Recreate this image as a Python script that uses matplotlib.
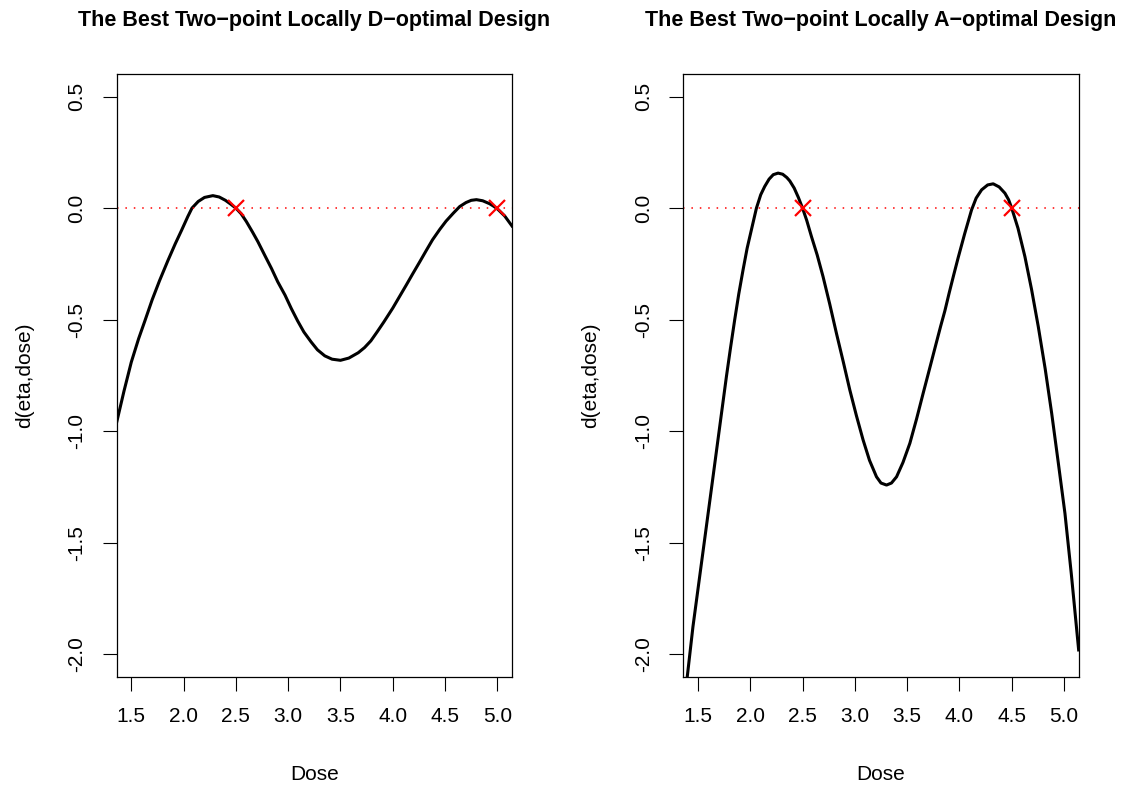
import numpy as np
import matplotlib
matplotlib.use("Agg")
import matplotlib.pyplot as plt

plt.rcParams['font.family'] = ['Liberation Sans', 'DejaVu Sans']

# sensitivity function
dose_d = [1.36, 1.43, 1.50, 1.57, 1.63, 1.70, 1.77, 1.85, 1.92, 1.98,
          2.04, 2.08, 2.14, 2.20, 2.28, 2.34, 2.40, 2.45, 2.50, 2.55,
          2.60, 2.66, 2.71, 2.78, 2.84, 2.90, 2.97, 3.03, 3.09, 3.15,
          3.22, 3.28, 3.35, 3.42, 3.50, 3.58, 3.67, 3.73, 3.79, 3.85,
          3.915, 4.00, 4.06, 4.13, 4.19, 4.26, 4.32, 4.38, 4.45, 4.51,
          4.58, 4.64, 4.70, 4.75, 4.80, 4.86, 4.925, 4.96, 5.00, 5.07, 5.14]
d_dopt = [-0.96, -0.82, -0.69, -0.585, -0.505, -0.41, -0.325, -0.235, -0.16, -0.10,
          -0.038, 0.0, 0.03, 0.048, 0.056, 0.050, 0.035, 0.018, 0.0, -0.025,
          -0.06, -0.108, -0.15, -0.215, -0.27, -0.33, -0.39, -0.45, -0.505, -0.555,
          -0.60, -0.635, -0.662, -0.677, -0.682, -0.672, -0.648, -0.625, -0.595, -0.555,
          -0.51, -0.448, -0.40, -0.344, -0.295, -0.239, -0.19, -0.142, -0.095, -0.058,
          -0.022, 0.007, 0.025, 0.035, 0.038, 0.033, 0.02, 0.01, -0.003, -0.035, -0.08]
design_d = [2.5, 5.0]

# sensitivity function
dose_a = [1.36, 1.40, 1.452, 1.516, 1.58, 1.644, 1.708, 1.772, 1.81, 1.851,
          1.89, 1.931, 1.97, 2.011, 2.059, 2.10, 2.138, 2.18, 2.22, 2.266,
          2.31, 2.35, 2.378, 2.42, 2.46, 2.50, 2.54, 2.585, 2.64, 2.696,
          2.76, 2.824, 2.89, 2.952, 3.015, 3.079, 3.14, 3.207, 3.25, 3.303,
          3.35, 3.399, 3.46, 3.526, 3.59, 3.653, 3.72, 3.781, 3.82, 3.861,
          3.902, 3.945, 3.988, 4.05, 4.116, 4.16, 4.212, 4.27, 4.323, 4.38,
          4.435, 4.47, 4.50, 4.56, 4.626, 4.69, 4.754, 4.82, 4.882, 4.945,
          5.009, 5.07, 5.131, 5.14]
d_aopt = [-2.25, -2.09, -1.876, -1.652, -1.428, -1.204, -0.979, -0.755, -0.63, -0.501,
          -0.385, -0.277, -0.18, -0.097, 0.0, 0.06, 0.097, 0.13, 0.15, 0.157,
          0.152, 0.137, 0.122, 0.09, 0.048, 0.0, -0.055, -0.127, -0.21, -0.307,
          -0.43, -0.561, -0.69, -0.815, -0.93, -1.039, -1.13, -1.204, -1.232, -1.241,
          -1.232, -1.204, -1.14, -1.054, -0.945, -0.830, -0.71, -0.60, -0.53, -0.46,
          -0.38, -0.30, -0.222, -0.115, -0.008, 0.045, 0.082, 0.104, 0.109, 0.095,
          0.067, 0.038, 0.0, -0.09, -0.217, -0.365, -0.531, -0.72, -0.919, -1.14,
          -1.368, -1.64, -1.936, -1.98]
design_a = [2.5, 4.5]

titles = ["The Best Two\u2212point Locally D\u2212optimal Design",
          "The Best Two\u2212point Locally A\u2212optimal Design"]
xticks = [1.5, 2.0, 2.5, 3.0, 3.5, 4.0, 4.5, 5.0]
yticks = [-2.0, -1.5, -1.0, -0.5, 0.0, 0.5]

fig = plt.figure(figsize=(11.25, 7.9), dpi=100)
ax1 = fig.add_axes([0.1037, 0.1434, 0.3514, 0.7626])
ax2 = fig.add_axes([0.6074, 0.1434, 0.3514, 0.7626])

panels = [(ax1, dose_d, d_dopt, design_d, titles[0]),
          (ax2, dose_a, d_aopt, design_a, titles[1])]

for ax, x, y, pts, title in panels:
    ax.plot(x, y, color="black", lw=2.2, solid_joinstyle="round")
    # zero reference line
    ax.axhline(0, color="red", lw=1.1, linestyle=(0, (1, 4.5)))
    ax.plot(pts, [0] * len(pts), linestyle="none", marker="x", color="red",
            markersize=12, markeredgewidth=1.6)
    ax.set_xlim(1.36, 5.14)
    ax.set_ylim(-2.1, 0.6)
    ax.set_xticks(xticks)
    ax.set_xticklabels(["%.1f" % t for t in xticks])
    ax.set_yticks(yticks)
    ax.set_yticklabels(["%.1f" % t for t in yticks], rotation=90, va="center")
    ax.tick_params(labelsize=15, length=10, width=0.8, pad=12)
    for s in ax.spines.values():
        s.set_linewidth(0.9)
    ax.set_title(title, fontsize=15.5, fontweight="bold", pad=35)
    ax.set_xlabel("Dose", fontsize=15, labelpad=28)
    ax.set_ylabel("d(eta,dose)", fontsize=15, labelpad=24)

fig.savefig("out.png", dpi=100)
